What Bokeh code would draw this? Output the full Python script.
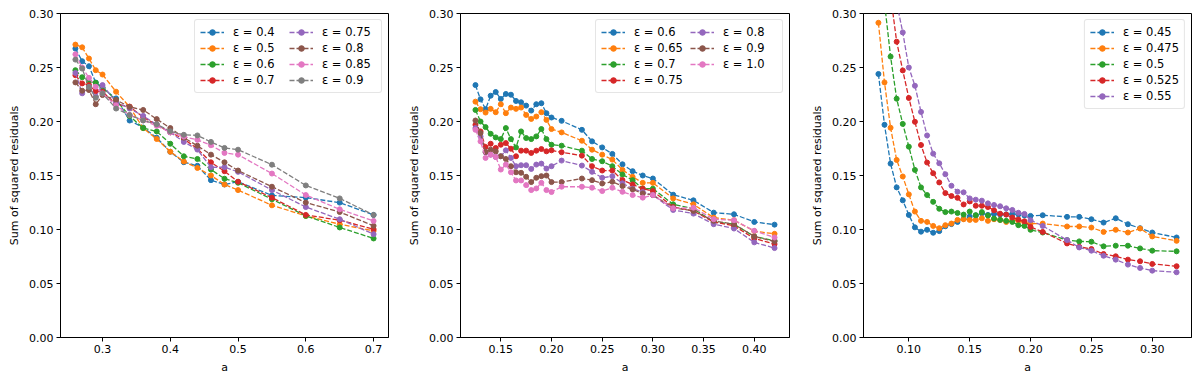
from bokeh.plotting import figure
from bokeh.layouts import row
from bokeh.models import Range1d, FixedTicker, PrintfTickFormatter, Legend, LegendItem
from bokeh.embed import file_html
from bokeh.resources import INLINE

COLORS = ["#1f77b4", "#ff7f0e", "#2ca02c", "#d62728", "#9467bd", "#8c564b", "#e377c2", "#7f7f7f"]

# ---------------- Panel 1 ----------------
a1 = [0.26, 0.27, 0.28, 0.29, 0.30, 0.32, 0.34, 0.36, 0.38, 0.40, 0.42, 0.44, 0.46, 0.48, 0.50, 0.55, 0.60, 0.65, 0.70]
eps1 = ["0.4", "0.5", "0.6", "0.7", "0.75", "0.8", "0.85", "0.9"]
p1_e040 = [0.2675, 0.2558, 0.2512, 0.236, 0.2306, 0.2214, 0.2009, 0.1944, 0.185, 0.172, 0.1623, 0.159, 0.1457, 0.1417, 0.1442, 0.1316, 0.1295, 0.1249, 0.1135]
p1_e050 = [0.2712, 0.2687, 0.2583, 0.2475, 0.2435, 0.2276, 0.2135, 0.1939, 0.1838, 0.172, 0.163, 0.157, 0.150, 0.1417, 0.1365, 0.1224, 0.1126, 0.1049, 0.0987]
p1_e060 = [0.2475, 0.241, 0.237, 0.2359, 0.2316, 0.2199, 0.205, 0.1939, 0.1908, 0.1794, 0.1678, 0.1653, 0.1555, 0.147, 0.1433, 0.128, 0.1126, 0.1019, 0.0917]
p1_e070 = [0.2429, 0.2353, 0.2337, 0.228, 0.2276, 0.216, 0.2138, 0.204, 0.1969, 0.19, 0.1838, 0.1748, 0.1622, 0.154, 0.1442, 0.1295, 0.1135, 0.1086, 0.1003]
p1_e075 = [0.245, 0.2261, 0.232, 0.2228, 0.2337, 0.218, 0.212, 0.2052, 0.197, 0.19, 0.1811, 0.174, 0.1576, 0.1577, 0.1534, 0.1365, 0.1208, 0.1095, 0.0957]
p1_e080 = [0.2362, 0.2285, 0.2291, 0.216, 0.2245, 0.22, 0.2135, 0.2107, 0.2022, 0.1939, 0.185, 0.1776, 0.1693, 0.1622, 0.1546, 0.1396, 0.1249, 0.1162, 0.1034]
p1_e085 = [0.2622, 0.25, 0.2404, 0.2322, 0.226, 0.215, 0.206, 0.201, 0.196, 0.19, 0.186, 0.183, 0.178, 0.1709, 0.1693, 0.1518, 0.1319, 0.1187, 0.1079]
p1_e090 = [0.2573, 0.249, 0.232, 0.222, 0.226, 0.212, 0.206, 0.201, 0.1975, 0.191, 0.1877, 0.1871, 0.1811, 0.1755, 0.1739, 0.160, 0.1408, 0.1288, 0.1135]
series1 = [p1_e040, p1_e050, p1_e060, p1_e070, p1_e075, p1_e080, p1_e085, p1_e090]

# ---------------- Panel 2 ----------------
a2 = [0.125, 0.13, 0.135, 0.14, 0.145, 0.15, 0.155, 0.16, 0.165, 0.17, 0.175, 0.18, 0.185, 0.19, 0.195, 0.20,
      0.21, 0.23, 0.24, 0.25, 0.26, 0.27, 0.28, 0.29, 0.30, 0.32, 0.34, 0.36, 0.38, 0.40, 0.42]
eps2 = ["0.6", "0.65", "0.7", "0.75", "0.8", "0.9", "1.0"]
p2_e060 = [0.2337, 0.2205, 0.2114, 0.2239, 0.2273, 0.2209, 0.2255, 0.2248, 0.219, 0.2178, 0.2147, 0.2101, 0.216, 0.2169, 0.2077, 0.2037,
           0.2006, 0.1923, 0.1816, 0.176, 0.17, 0.1604, 0.154, 0.15, 0.1472, 0.1322, 0.127, 0.1156, 0.1141, 0.107, 0.1045]
p2_e065 = [0.2184, 0.2114, 0.2083, 0.2117, 0.2086, 0.216, 0.2077, 0.2129, 0.2117, 0.2129, 0.2061, 0.2024, 0.2046, 0.2086, 0.2015, 0.193,
           0.1899, 0.1822, 0.1739, 0.1693, 0.1647, 0.1552, 0.1488, 0.1432, 0.1432, 0.1288, 0.1233, 0.111, 0.1086, 0.0985, 0.096]
p2_e070 = [0.2107, 0.2, 0.1948, 0.1886, 0.1853, 0.1837, 0.1939, 0.1837, 0.176, 0.1908, 0.1847, 0.1837, 0.1862, 0.193, 0.1837, 0.1785,
           0.1776, 0.173, 0.1653, 0.1632, 0.1586, 0.1509, 0.1457, 0.1378, 0.1378, 0.1233, 0.1193, 0.107, 0.1049, 0.0936, 0.0896]
p2_e075 = [0.1969, 0.1908, 0.1764, 0.1794, 0.1755, 0.1785, 0.18, 0.1748, 0.1678, 0.173, 0.173, 0.1709, 0.173, 0.1745, 0.1724, 0.1733,
           0.1715, 0.1684, 0.1586, 0.1546, 0.1546, 0.1458, 0.1417, 0.1378, 0.1356, 0.1209, 0.1172, 0.107, 0.1034, 0.0917, 0.0865]
p2_e080 = [0.1939, 0.1862, 0.1715, 0.1693, 0.1672, 0.1678, 0.1733, 0.1663, 0.1586, 0.1595, 0.1595, 0.1561, 0.1601, 0.161, 0.1564, 0.1586,
           0.1638, 0.1592, 0.1534, 0.1479, 0.1494, 0.1428, 0.1378, 0.1347, 0.1319, 0.1181, 0.1147, 0.1049, 0.1009, 0.0881, 0.0828]
p2_e090 = [0.2009, 0.1893, 0.1718, 0.1739, 0.1724, 0.1678, 0.1653, 0.1586, 0.153, 0.1525, 0.1488, 0.1439, 0.1479, 0.1494, 0.15, 0.1439,
           0.1439, 0.1472, 0.1457, 0.1426, 0.1442, 0.1402, 0.1371, 0.1334, 0.1319, 0.1202, 0.1172, 0.108, 0.1049, 0.0936, 0.089]
p2_e100 = [0.1923, 0.1816, 0.1663, 0.1693, 0.1672, 0.1555, 0.1601, 0.153, 0.1454, 0.1454, 0.1411, 0.1365, 0.138, 0.1432, 0.1365, 0.1347,
           0.1396, 0.1396, 0.1387, 0.1356, 0.1387, 0.1349, 0.1319, 0.1295, 0.1319, 0.1196, 0.1202, 0.1095, 0.1086, 0.0988, 0.0926]
series2 = [p2_e060, p2_e065, p2_e070, p2_e075, p2_e080, p2_e090, p2_e100]
colors2 = ["#1f77b4", "#ff7f0e", "#2ca02c", "#d62728", "#9467bd", "#8c564b", "#e377c2"]

# ---------------- Panel 3 ----------------
a3 = [0.075, 0.08, 0.085, 0.09, 0.095, 0.10, 0.105, 0.11, 0.115, 0.12, 0.125, 0.13, 0.135, 0.14, 0.145, 0.15, 0.155,
      0.16, 0.165, 0.17, 0.175, 0.18, 0.185, 0.19, 0.195, 0.20, 0.21, 0.23, 0.24, 0.25, 0.26, 0.27, 0.28, 0.29, 0.30, 0.32]
eps3 = ["0.45", "0.475", "0.5", "0.525", "0.55"]
p3_e0450 = [0.244, 0.197, 0.161, 0.139, 0.127, 0.1135, 0.102, 0.098, 0.0997, 0.097, 0.0985, 0.103, 0.105, 0.107, 0.110, 0.112, 0.113,
            0.115, 0.1135, 0.1144, 0.114, 0.114, 0.1144, 0.114, 0.113, 0.1126, 0.1132, 0.1117, 0.1117, 0.1095, 0.1064, 0.1104, 0.1049, 0.1012, 0.0972, 0.0926]
p3_e0475 = [0.2914, 0.2362, 0.1942, 0.1644, 0.1491, 0.1325, 0.1166, 0.108, 0.107, 0.1033, 0.1012, 0.104, 0.1055, 0.1089, 0.1095, 0.1089, 0.1089,
             0.1104, 0.108, 0.1095, 0.1089, 0.107, 0.1089, 0.108, 0.1064, 0.1055, 0.1055, 0.1028, 0.1028, 0.1018, 0.0978, 0.0997, 0.0972, 0.1009, 0.0936, 0.0895]
p3_e0500 = [0.36, 0.31, 0.2601, 0.2211, 0.1978, 0.1767, 0.1552, 0.139, 0.1319, 0.1256, 0.1192, 0.1161, 0.1166, 0.1153, 0.1138, 0.1166, 0.1133,
            0.1161, 0.1130, 0.1101, 0.1089, 0.108, 0.107, 0.104, 0.1033, 0.0997, 0.0972, 0.0902, 0.089, 0.0887, 0.0844, 0.085, 0.085, 0.0825, 0.0804, 0.0798]
p3_e0525 = [0.43, 0.37, 0.317, 0.2739, 0.2473, 0.2218, 0.1997, 0.1782, 0.162, 0.1521, 0.1436, 0.1337, 0.131, 0.1293, 0.1232, 0.126, 0.122,
            0.122, 0.1208, 0.1178, 0.1146, 0.1138, 0.1111, 0.1093, 0.1076, 0.1024, 0.0978, 0.0871, 0.084, 0.0819, 0.0773, 0.0752, 0.0721, 0.0706, 0.0681, 0.066]
p3_e0550 = [0.47, 0.41, 0.36, 0.31, 0.2825, 0.25, 0.2331, 0.2089, 0.1871, 0.1702, 0.1613, 0.1512, 0.1405, 0.135, 0.1344, 0.1288, 0.1276,
            0.1267, 0.1242, 0.1227, 0.1215, 0.1196, 0.1181, 0.1155, 0.1144, 0.1086, 0.1033, 0.0902, 0.0834, 0.0804, 0.0757, 0.0721, 0.0675, 0.0644, 0.0619, 0.0604]
series3 = [p3_e0450, p3_e0475, p3_e0500, p3_e0525, p3_e0550]

y_ticks = [0.0, 0.05, 0.10, 0.15, 0.20, 0.25, 0.30]
FONT = "DejaVu Sans"


def make_panel(x, series, labels, colors, xr, xticks, xfmt, width, bl, br, ncols):
    p = figure(width=width, height=376, output_backend="svg", toolbar_location=None,
               x_range=Range1d(*xr), y_range=Range1d(0.0, 0.30),
               min_border_left=bl, min_border_right=br, min_border_top=13, min_border_bottom=37)
    p.xgrid.visible = False
    p.ygrid.visible = False
    p.outline_line_color = "black"
    p.outline_line_width = 1
    p.background_fill_color = "white"
    items = []
    for ys, lab, col in zip(series, labels, colors):
        l = p.line(x, ys, line_color=col, line_width=1.3, line_dash="5 2")
        s = p.scatter(x, ys, size=5, fill_color=col, line_color=col)
        items.append(LegendItem(label="ε = " + lab, renderers=[l, s]))
    for ax in (p.xaxis[0], p.yaxis[0]):
        ax.major_tick_out = 4
        ax.major_tick_in = 0
        ax.minor_tick_out = 0
        ax.minor_tick_in = 0
        ax.major_label_standoff = 3
        ax.axis_label_standoff = 5
        ax.major_label_text_font = FONT
        ax.major_label_text_font_size = "11px"
        ax.major_label_text_color = "black"
        ax.axis_label_text_font = FONT
        ax.axis_label_text_font_size = "11px"
        ax.axis_label_text_font_style = "normal"
        ax.axis_label_text_color = "black"
        ax.axis_line_color = "black"
        ax.major_tick_line_color = "black"
    p.xaxis[0].ticker = FixedTicker(ticks=xticks)
    p.xaxis[0].formatter = PrintfTickFormatter(format=xfmt)
    p.yaxis[0].ticker = FixedTicker(ticks=y_ticks)
    p.yaxis[0].formatter = PrintfTickFormatter(format="%.2f")
    p.xaxis[0].axis_label = "a"
    p.yaxis[0].axis_label = "Sum of squared residuals"
    leg = Legend(items=items, location="top_right", ncols=ncols, orientation="vertical",
                 label_text_font=FONT, label_text_font_size="11.5px", label_text_color="black",
                 glyph_width=24, glyph_height=14, label_height=14, label_width=54, label_standoff=9,
                 spacing=2, padding=5, margin=6,
                 border_line_color="#cccccc", border_line_width=1,
                 background_fill_color="white", background_fill_alpha=0.85)
    if "border_radius" in Legend.properties():
        leg.border_radius = 3
    p.add_layout(leg)
    return p


p1 = make_panel(a1, series1, eps1, COLORS, (0.238, 0.722), [0.3, 0.4, 0.5, 0.6, 0.7], "%.1f", 400, 60, 12, 2)
p2 = make_panel(a2, series2, eps2, colors2, (0.11025, 0.43475), [0.15, 0.20, 0.25, 0.30, 0.35, 0.40], "%.2f", 400, 60, 11, 2)
p3 = make_panel(a3, series3, eps3, COLORS[:5], (0.06275, 0.33225), [0.10, 0.15, 0.20, 0.25, 0.30], "%.2f", 400, 63, 9, 1)

layout = row(p1, p2, p3)
open("out.html", "w").write(file_html(layout, INLINE))
